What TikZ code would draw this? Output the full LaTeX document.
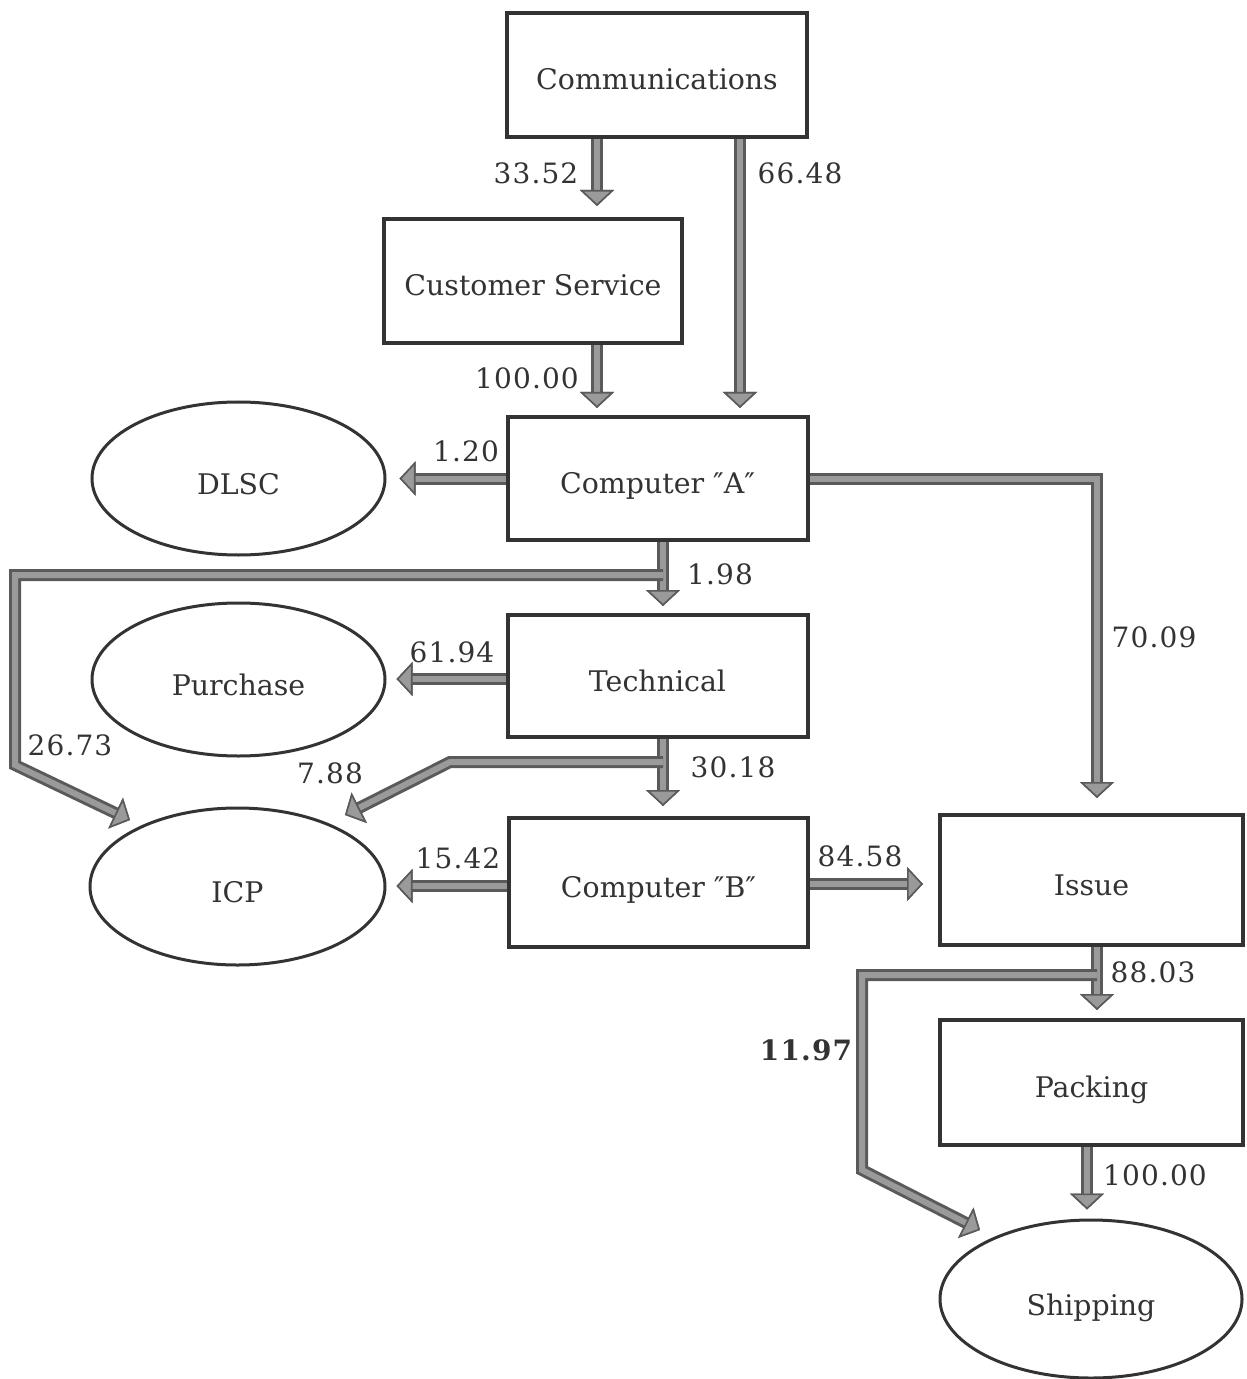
\documentclass[tikz,border=0pt]{standalone}
\usepackage{fontspec}
\setmainfont{DejaVu Serif}
\usetikzlibrary{arrows.meta,shapes.geometric}
\definecolor{ink}{HTML}{333333}
\definecolor{band}{HTML}{9A9A9A}
\definecolor{bandedge}{HTML}{5A5A5A}
\begin{document}
\begin{tikzpicture}[x=0.5pt,y=-0.5pt,
  every node/.style={text=ink, font=\fontsize{14.2}{16}\selectfont},
  boxnode/.style={draw=ink, line width=2pt, rectangle, minimum width=150pt, minimum height=62pt, inner sep=0pt, text height=15pt, text depth=0pt},
  ellnode/.style={draw=ink, line width=1.5pt, ellipse, minimum width=146.5pt, minimum height=76.5pt, inner sep=0pt, text height=16pt, text depth=0pt},
  numlabel/.style={font=\fontsize{14}{16}\selectfont\addfontfeature{LetterSpace=4}, inner sep=0pt},
  flow/.style={draw=band, line width=3pt, line join=miter,
    -{Triangle[length=8pt,width=17pt,color=bandedge,fill=band,line width=0.8pt]},
    preaction={draw=bandedge, line width=6pt}},
]
\useasboundingbox (0,0) rectangle (1246,1379);

% boxes
\node[boxnode] (comm) at (657,75) {Communications};
\node[boxnode, minimum width=149pt] (cs) at (533,281) {Customer Service};
\node[boxnode, minimum height=61.5pt] (ca) at (657.5,478.5) {Computer ″A″};
\node[boxnode, minimum height=61pt] (tech) at (657.5,676) {Technical};
\node[boxnode, minimum width=149.5pt, minimum height=64.5pt] (cb) at (658.5,882.5) {Computer ″B″};
\node[boxnode, minimum width=151.5pt, minimum height=65pt] (issue) at (1091.5,880) {Issue};
\node[boxnode, minimum width=151.5pt, minimum height=62.5pt] (pack) at (1091.5,1082.5) {Packing};

% ellipses
\node[ellnode] (dlsc) at (238.5,478.5) {DLSC};
\node[ellnode] (purch) at (238.5,679.5) {Purchase};
\node[ellnode, minimum width=147.5pt, minimum height=78.5pt] (icp) at (237.5,886.5) {ICP};
\node[ellnode, minimum width=151pt, minimum height=79pt] (ship) at (1091,1299) {Shipping};

% bend coordinates
\coordinate (j1) at ([shift={(5.5,33)}]ca.south);
\coordinate (k2) at (15,765);
\coordinate (t1) at (130,820);
\coordinate (j2) at ([shift={(5.5,23)}]tech.south);
\coordinate (k3) at (450,762);
\coordinate (t2) at (345,815);
\coordinate (j3) at ([shift={(5.5,28)}]issue.south);
\coordinate (k5) at (862,1170);
\coordinate (t3) at (980,1230);

% connectors
\draw[flow, shorten >=5.5pt] ([xshift=-30pt]comm.south) -- ([xshift=32pt]cs.north);
\draw[flow, shorten >=3.5pt] ([xshift=41.5pt]comm.south) -- ([xshift=41.5pt]comm.south |- ca.north);
\draw[flow, shorten >=3.5pt] ([xshift=32pt]cs.south) -- ([xshift=-30.25pt]ca.north);
\draw[flow, shorten >=6.5pt] (ca.west) -- (ca.west -| dlsc.east);
\draw[flow, shorten >=3.5pt] ([xshift=2.75pt]ca.south) -- ([xshift=2.75pt]tech.north);
\draw[flow] (j1) -| (k2) -- (t1);
\draw[flow, shorten >=7.5pt] (ca.east) -| ([xshift=2.75pt]issue.north);
\draw[flow, shorten >=5pt] ([yshift=-1.5pt]tech.west) -- ([yshift=-1.5pt]tech.west -| purch.east);
\draw[flow, shorten >=5pt] ([xshift=2.75pt]tech.south) -- ([xshift=2.75pt]tech.south |- cb.north);
\draw[flow] (j2) -- (j2 -| k3) -- (t2);
\draw[flow, shorten >=5pt] ([yshift=-1.75pt]cb.west) -- ([yshift=-1.75pt]cb.west -| icp.east);
\draw[flow, shorten >=7.5pt] ([yshift=-0.75pt]cb.east) -- ([yshift=-0.75pt]cb.east -| issue.west);
\draw[flow, shorten >=4pt] ([xshift=2.75pt]issue.south) -- ([xshift=2.75pt]pack.north);
\draw[flow] (j3) -| (k5) -- (t3);
\draw[flow, shorten >=4.5pt] ([xshift=-2.25pt]pack.south) -- ([xshift=-2.25pt]pack.south |- ship.north);

% labels
\node[numlabel] (l1) at (536,173) {33.52};
\node[numlabel] (l2) at (800,173) {66.48};
\node[numlabel] (l3) at (527,378) {100.00};
\node[numlabel] (l4) at (466,451) {1.20};
\node[numlabel] (l5) at (720,574) {1.98};
\node[numlabel] (l6) at (452,652) {61.94};
\node[numlabel] (l7) at (70,745) {26.73};
\node[numlabel] (l8) at (330,773) {7.88};
\node[numlabel] (l9) at (733,767) {30.18};
\node[numlabel] (l10) at (1154,637) {70.09};
\node[numlabel] (l11) at (458,858) {15.42};
\node[numlabel] (l12) at (860,856) {84.58};
\node[numlabel] (l13) at (1153,972) {88.03};
\node[numlabel, font=\bfseries\fontsize{14}{16}\selectfont\addfontfeature{LetterSpace=4}] (l14) at (806,1050) {11.97};
\node[numlabel] (l15) at (1155,1175) {100.00};
\end{tikzpicture}
\end{document}
